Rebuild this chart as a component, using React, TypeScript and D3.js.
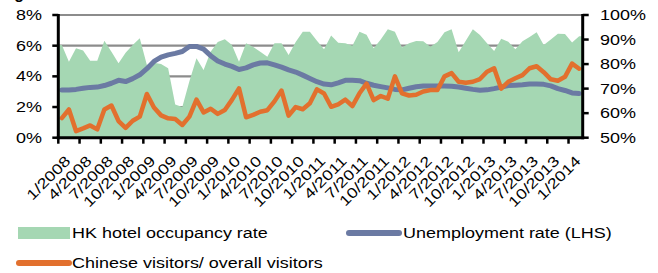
import React from "react";
import * as d3 from "d3";

const months = d3.timeMonths(new Date(2008, 0, 1), new Date(2014, 2, 1)); // Jan 2008 .. Feb 2014

const tickLabels = [
  "1/2008", "4/2008", "7/2008", "10/2008",
  "1/2009", "4/2009", "7/2009", "10/2009",
  "1/2010", "4/2010", "7/2010", "10/2010",
  "1/2011", "4/2011", "7/2011", "10/2011",
  "1/2012", "4/2012", "7/2012", "10/2012",
  "1/2013", "4/2013", "7/2013", "10/2013",
  "1/2014",
];

const leftTicks = [0, 2, 4, 6, 8];
const rightTicks = [50, 60, 70, 80, 90, 100];

// HK hotel occupancy rate (%), right axis
const hotelOccupancy = [
  87.8, 81.0, 86.4, 85.5, 81.4, 81.4, 89.5, 85.0, 80.3, 84.6,
  87.8, 90.5, 79.6, 80.5, 80.0, 78.3, 63.5, 62.5, 73.0, 82.4,
  77.6, 85.0, 89.0, 90.1, 87.8, 81.0, 88.5, 87.0, 85.0, 83.0,
  88.5, 88.5, 83.7, 89.0, 93.2, 93.2, 89.5, 86.0, 91.6, 88.7,
  88.5, 87.5, 93.2, 92.0, 86.5, 90.0, 94.2, 93.2, 86.8, 88.5,
  89.4, 89.3, 87.1, 89.0, 93.0, 94.2, 84.8, 89.5, 94.2, 91.8,
  88.5, 85.3, 90.3, 89.1, 86.0, 89.3, 91.0, 93.0, 87.8, 90.0,
  92.4, 92.3, 88.8, 91.3,
];

// Unemployment rate (%), left axis
const unemployment = [
  3.11, 3.11, 3.15, 3.22, 3.28, 3.30, 3.40, 3.55, 3.74, 3.66,
  3.85, 4.10, 4.50, 4.97, 5.25, 5.40, 5.50, 5.62, 5.95, 5.95,
  5.78, 5.35, 5.00, 4.80, 4.65, 4.45, 4.55, 4.75, 4.87, 4.88,
  4.75, 4.60, 4.42, 4.28, 4.08, 3.86, 3.65, 3.50, 3.45, 3.58,
  3.74, 3.75, 3.72, 3.55, 3.42, 3.33, 3.25, 3.15, 3.12, 3.22,
  3.32, 3.37, 3.37, 3.37, 3.37, 3.36, 3.30, 3.22, 3.15, 3.10,
  3.12, 3.20, 3.30, 3.40, 3.42, 3.45, 3.50, 3.50, 3.48, 3.38,
  3.20, 3.08, 2.92, 2.88,
];

// Chinese visitors / overall visitors (%), right axis
const chineseShare = [
  58.0, 61.5, 52.7, 53.8, 55.0, 53.4, 61.5, 63.1, 56.8, 54.0,
  56.9, 58.6, 67.8, 62.3, 59.1, 57.9, 57.6, 55.2, 58.6, 65.5,
  60.3, 61.8, 59.7, 61.3, 65.4, 70.1, 58.3, 59.3, 60.6, 61.2,
  64.8, 69.2, 59.0, 62.5, 61.6, 64.0, 69.7, 68.0, 62.6, 63.6,
  65.5, 62.9, 68.1, 72.0, 65.3, 67.0, 65.9, 75.0, 68.1, 67.2,
  67.5, 68.8, 69.4, 69.4, 75.0, 76.3, 72.8, 72.4, 72.8, 73.9,
  76.9, 78.3, 70.0, 72.8, 74.2, 75.5, 78.3, 79.1, 76.7, 73.8,
  73.2, 74.8, 80.2, 78.1,
];

const legendItems = [
  "HK hotel occupancy rate",
  "Unemployment rate (LHS)",
  "Chinese visitors/ overall visitors",
];

const GREEN = "#a5d7b3";
const BLUE = "#6b7aa3";
const ORANGE = "#e2702e";
const GRID = "#8c8c8c";
const FONT = "'Liberation Sans', Arial, sans-serif";
const FS = 14.5;
const SX = 1.24;

const W = 658;
const H = 273;
const plotLeft = 58.3;
const plotRight = 582.7;
const plotTop = 15;
const plotBottom = 137.7;

function T({ x, y, anchor = "start", rotate = 0, children }: any) {
  return (
    <text
      transform={`translate(${x},${y}) rotate(${rotate}) scale(${SX},1)`}
      textAnchor={anchor}
      fontFamily={FONT}
      fontSize={FS}
      fill="#000"
    >
      {children}
    </text>
  );
}

export default function App() {
  const idx = months.map((_, i) => i);
  const x = d3.scaleBand<number>().domain(idx).range([plotLeft, plotRight]).paddingInner(0).paddingOuter(0);
  const bw = x.bandwidth();
  const cx = (i: number) => (x(i) as number) + bw / 2;
  const yL = d3.scaleLinear().domain([0, 8]).range([plotBottom, plotTop]);
  const yR = d3.scaleLinear().domain([50, 100]).range([plotBottom, plotTop]);

  const areaPts: [number, number][] = [
    [plotLeft, hotelOccupancy[0]],
    ...hotelOccupancy.map((v, i) => [cx(i), v] as [number, number]),
    [plotRight, hotelOccupancy[hotelOccupancy.length - 1]],
  ];
  const areaGen = d3
    .area<[number, number]>()
    .x((d) => d[0])
    .y0(yR(50))
    .y1((d) => yR(d[1]));

  const lineL = d3
    .line<number>()
    .x((_, i) => cx(i))
    .y((d) => yL(d));
  const lineR = d3
    .line<number>()
    .x((_, i) => cx(i))
    .y((d) => yR(d));

  const tickIdx = tickLabels.map((_, k) => k * 3);

  return (
    <svg
      width={W}
      height={H}
      viewBox={`0 0 ${W} ${H}`}
      style={{ position: "absolute", left: 0, top: 0, background: "#fff" }}
    >
      <rect x={0} y={0} width={W} height={H} fill="#fff" />
      {/* cut-off title */}
      <text x={0} y={-1} fontFamily={FONT} fontSize={16} fontWeight="bold">
        Figure
      </text>

      {/* gridlines */}
      {leftTicks
        .filter((t) => t > 0)
        .map((t) => (
          <line
            key={"g" + t}
            x1={plotLeft}
            x2={plotRight}
            y1={yL(t)}
            y2={yL(t)}
            stroke={GRID}
            strokeWidth={2.2}
          />
        ))}

      {/* hotel occupancy area */}
      <path d={areaGen(areaPts) || ""} fill={GREEN} />

      {/* unemployment line */}
      <path
        d={lineL(unemployment) || ""}
        fill="none"
        stroke={BLUE}
        strokeWidth={5}
        strokeLinejoin="round"
        strokeLinecap="round"
      />
      {/* chinese share line */}
      <path
        d={lineR(chineseShare) || ""}
        fill="none"
        stroke={ORANGE}
        strokeWidth={4.5}
        strokeLinejoin="round"
        strokeLinecap="round"
      />

      {/* axes */}
      <line x1={plotLeft} x2={plotLeft} y1={plotTop - 1} y2={plotBottom + 1.5} stroke="#000" strokeWidth={3} />
      <line x1={plotRight} x2={plotRight} y1={plotTop - 1} y2={plotBottom + 1.5} stroke="#000" strokeWidth={3} />
      <line x1={plotLeft - 1.5} x2={plotRight + 1.5} y1={plotBottom} y2={plotBottom} stroke="#000" strokeWidth={3} />

      {/* left ticks & labels */}
      {leftTicks.map((t) => (
        <g key={"l" + t}>
          <line x1={plotLeft - 6} x2={plotLeft} y1={yL(t)} y2={yL(t)} stroke="#000" strokeWidth={2.5} />
          <T x={42} y={yL(t) + 5} anchor="end">
            {t + "%"}
          </T>
        </g>
      ))}

      {/* right ticks & labels */}
      {rightTicks.map((t) => (
        <g key={"r" + t}>
          <line x1={plotRight} x2={plotRight + 6} y1={yR(t)} y2={yR(t)} stroke="#000" strokeWidth={2.5} />
          <T x={600} y={yR(t) + 5} anchor="start">
            {t + "%"}
          </T>
        </g>
      ))}

      {/* bottom ticks & labels */}
      {tickIdx.map((i, k) => {
        const tx = x(i) as number;
        return (
          <g key={"b" + k}>
            <line x1={tx} x2={tx} y1={plotBottom} y2={plotBottom + 6} stroke="#000" strokeWidth={2.5} />
            <T x={tx + 13} y={162} anchor="end" rotate={-45}>
              {tickLabels[k]}
            </T>
          </g>
        );
      })}

      {/* legend */}
      <rect x={18} y={227} width={52} height={12} fill={GREEN} />
      <T x={72} y={238} anchor="start">
        {legendItems[0]}
      </T>
      <line x1={349} x2={399} y1={233} y2={233} stroke={BLUE} strokeWidth={6} strokeLinecap="round" />
      <T x={403} y={238} anchor="start">
        {legendItems[1]}
      </T>
      <line x1={19} x2={69} y1={263} y2={263} stroke={ORANGE} strokeWidth={6} strokeLinecap="round" />
      <T x={72} y={268} anchor="start">
        {legendItems[2]}
      </T>
    </svg>
  );
}
